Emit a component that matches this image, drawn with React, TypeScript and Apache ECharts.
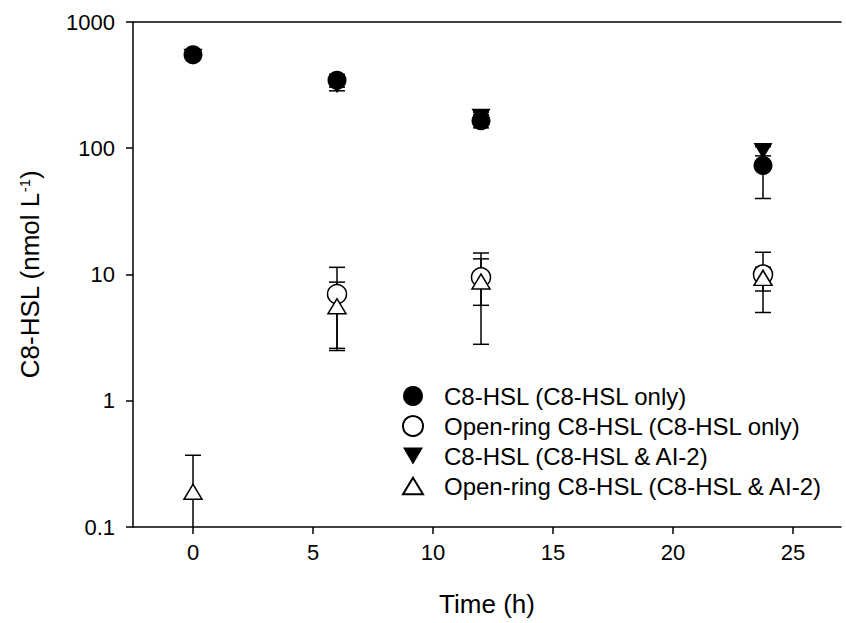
import React, { useEffect, useRef } from "react";
import * as echarts from "echarts";

const times = [0, 6, 12, 23.75];
const c8Only = [550, 345, 165, 73];
const c8OnlyErr = [25, 40, 20, 33];
const openOnly: (number | null)[] = [null, 7.0, 9.5, 10.0];
const openOnlyErr: (number | null)[] = [null, 4.4, 3.8, 5.0];
const c8Ai2 = [530, 315, 178, 95];
const c8Ai2Err = [20, 30, 15, 8];
const openAi2 = [0.19, 5.6, 8.8, 9.4];
const openAi2Err = [0.18, 3.1, 6.0, 2.0];

const xTicks = [0, 5, 10, 15, 20, 25];
const legendNames = [
  "C8-HSL (C8-HSL only)",
  "Open-ring C8-HSL (C8-HSL only)",
  "C8-HSL (C8-HSL & AI-2)",
  "Open-ring C8-HSL (C8-HSL & AI-2)",
];

const FONT = "'Liberation Sans', Arial, Helvetica, sans-serif";
const Y_MIN = 0.1;
const Y_MAX = 1000;
const TRI_UP = "path://M9,0L18,15L0,15Z";
const TRI_DOWN = "path://M0,0L19,0L9.5,16Z";

function pts(vals: (number | null)[]) {
  return times
    .map((t, i) => (vals[i] == null ? null : [t, vals[i] as number]))
    .filter((p) => p !== null);
}
function errPts(vals: (number | null)[], errs: (number | null)[]) {
  return times
    .map((t, i) =>
      vals[i] == null || errs[i] == null ? null : [t, vals[i] as number, errs[i] as number]
    )
    .filter((p) => p !== null);
}

function errorSeries(data: any[]) {
  return {
    type: "custom",
    xAxisIndex: 0,
    yAxisIndex: 0,
    z: 1,
    silent: true,
    encode: { x: 0, y: 1 },
    data,
    renderItem: (params: any, api: any) => {
      const x = api.value(0);
      const y = api.value(1);
      const e = api.value(2);
      const hi = Math.min(y + e, Y_MAX);
      const loRaw = y - e;
      const loClipped = loRaw <= Y_MIN;
      const lo = loClipped ? Y_MIN : loRaw;
      const pHi = api.coord([x, hi]);
      const pLo = api.coord([x, lo]);
      const half = 8;
      const style = { stroke: "#000", lineWidth: 1.5 };
      const children: any[] = [
        { type: "line", shape: { x1: pHi[0], y1: pHi[1], x2: pLo[0], y2: pLo[1] }, style },
        { type: "line", shape: { x1: pHi[0] - half, y1: pHi[1], x2: pHi[0] + half, y2: pHi[1] }, style },
      ];
      if (!loClipped) {
        children.push({
          type: "line",
          shape: { x1: pLo[0] - half, y1: pLo[1], x2: pLo[0] + half, y2: pLo[1] },
          style,
        });
      }
      return { type: "group", children };
    },
  };
}

export default function App() {
  const ref = useRef<HTMLDivElement>(null);
  useEffect(() => {
    if (!ref.current) return;
    const chart = echarts.init(ref.current, undefined, { renderer: "svg" });
    const axisLine = { show: true, onZero: false, lineStyle: { color: "#000", width: 1.5 } };
    chart.setOption({
      animation: false,
      backgroundColor: "#fff",
      textStyle: { fontFamily: FONT, color: "#000" },
      grid: { left: 133, top: 22, right: 5, bottom: 96 },
      xAxis: [
        {
          type: "value",
          min: -2.5,
          max: 27,
          axisLine,
          splitLine: { show: false },
          axisTick: { show: true, length: 7, lineStyle: { color: "#000", width: 1.5 }, customValues: xTicks },
          axisLabel: { customValues: xTicks, fontSize: 22, color: "#000", fontFamily: FONT, margin: 14 },
          name: "Time (h)",
          nameLocation: "middle",
          nameGap: 64,
          nameTextStyle: { fontSize: 26, color: "#000", fontFamily: FONT },
        },
        {
          type: "value",
          position: "top",
          min: -2.5,
          max: 27,
          axisLine,
          axisTick: { show: false },
          axisLabel: { show: false },
          splitLine: { show: false },
        },
      ],
      yAxis: {
        type: "log",
        logBase: 10,
        min: Y_MIN,
        max: Y_MAX,
        axisLine,
        splitLine: { show: false },
        minorTick: { show: false },
        axisTick: { show: true, length: 7, lineStyle: { color: "#000", width: 1.5 } },
        axisLabel: {
          fontSize: 22,
          color: "#000",
          fontFamily: FONT,
          margin: 18,
          formatter: (v: number) => (v >= 1 ? String(Math.round(v)) : String(+v.toFixed(1))),
        },
        name: "C8-HSL (nmol L{sup|-1})",
        nameLocation: "middle",
        nameGap: 90,
        nameRotate: 90,
        nameTextStyle: {
          fontSize: 26,
          color: "#000",
          fontFamily: FONT,
          rich: { sup: { fontSize: 15, verticalAlign: "top", lineHeight: 15, color: "#000", fontFamily: FONT } },
        },
      },
      legend: {
        orient: "vertical",
        left: 397,
        top: 379,
        itemWidth: 20,
        itemHeight: 20,
        itemGap: 6,
        data: [
          { name: legendNames[0], icon: "circle" },
          { name: legendNames[1], icon: "circle" },
          { name: legendNames[2], icon: TRI_DOWN },
          { name: legendNames[3], icon: TRI_UP },
        ],
        textStyle: { fontSize: 24, lineHeight: 20, color: "#000", fontFamily: FONT, padding: [0, 0, 0, 16] },
      },
      series: [
        errorSeries(errPts(c8Ai2, c8Ai2Err)),
        errorSeries(errPts(c8Only, c8OnlyErr)),
        errorSeries(errPts(openOnly, openOnlyErr)),
        errorSeries(errPts(openAi2, openAi2Err)),
        {
          name: legendNames[2],
          type: "scatter",
          z: 3,
          symbol: TRI_DOWN,
          symbolSize: [19, 16],
          itemStyle: { color: "#000", opacity: 1 },
          data: pts(c8Ai2),
        },
        {
          name: legendNames[0],
          type: "scatter",
          z: 4,
          symbol: "circle",
          symbolSize: 19,
          itemStyle: { color: "#000", opacity: 1 },
          data: pts(c8Only),
        },
        {
          name: legendNames[1],
          type: "scatter",
          z: 5,
          symbol: "circle",
          symbolSize: 19,
          itemStyle: { color: "#fff", borderColor: "#000", borderWidth: 1.5, opacity: 1 },
          data: pts(openOnly),
        },
        {
          name: legendNames[3],
          type: "scatter",
          z: 6,
          symbol: TRI_UP,
          symbolSize: [18, 15],
          itemStyle: { color: "#fff", borderColor: "#000", borderWidth: 1.5, opacity: 1 },
          data: pts(openAi2),
        },
      ],
    });
    return () => chart.dispose();
  }, []);
  return (
    <div
      ref={ref}
      style={{ position: "fixed", left: 0, top: 0, width: 846, height: 623 }}
    />
  );
}
